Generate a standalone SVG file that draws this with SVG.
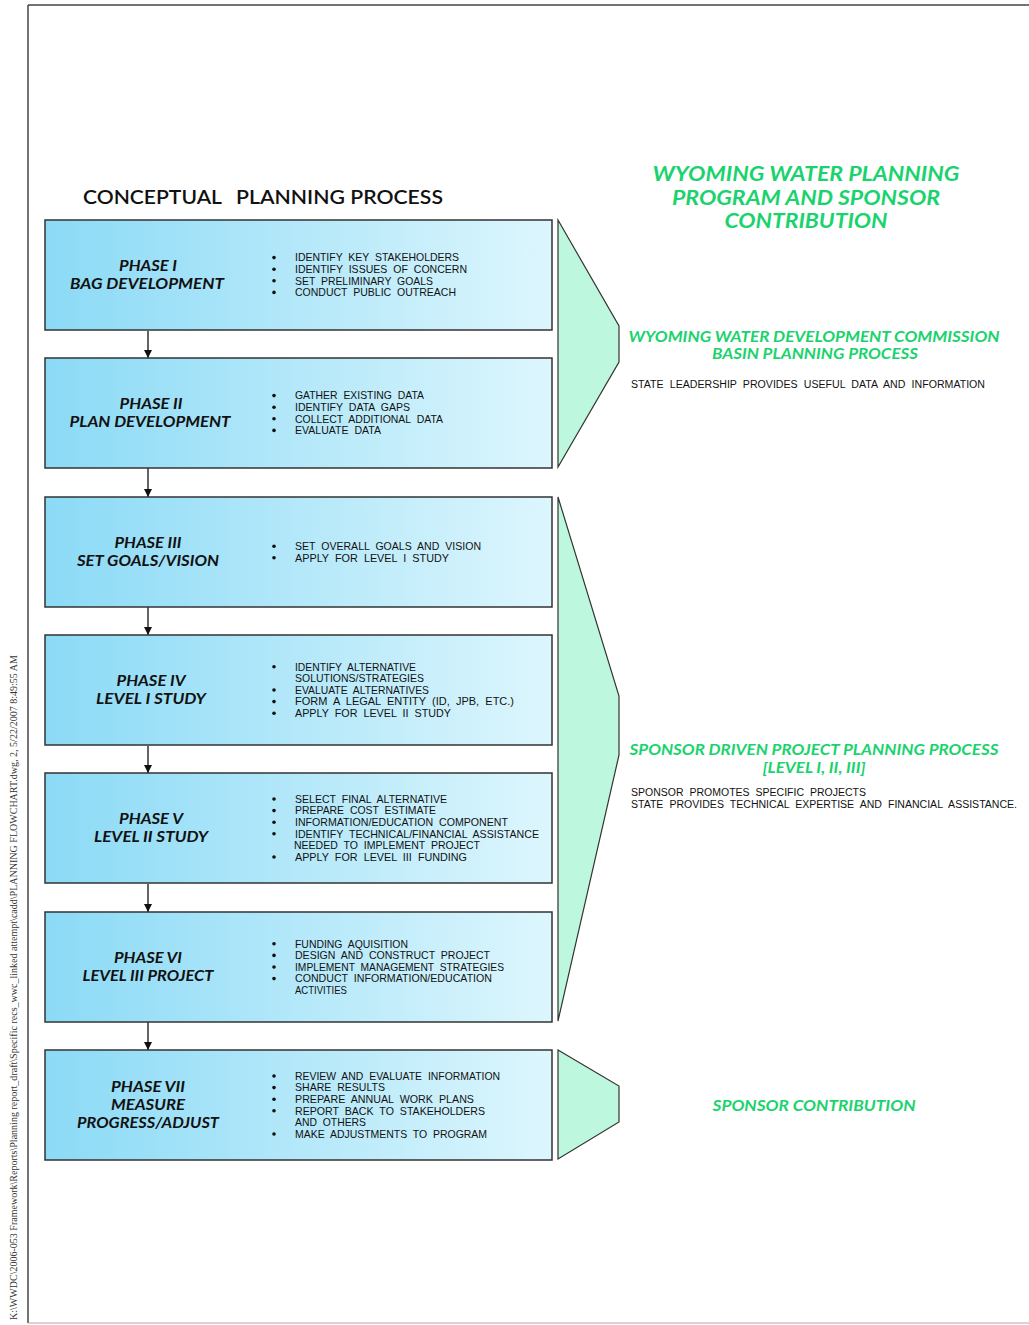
<svg xmlns="http://www.w3.org/2000/svg" width="1029" height="1325" viewBox="0 0 1029 1325">
<defs>
<linearGradient id="boxg" x1="0" y1="0" x2="1" y2="0">
<stop offset="0" stop-color="#8bdaf6"/>
<stop offset="1" stop-color="#ddf6fd"/>
</linearGradient>
<marker id="arr" viewBox="0 0 10 10" refX="10" refY="5" markerWidth="10" markerHeight="8" markerUnits="userSpaceOnUse" orient="auto">
<path d="M0,0 L10,5 L0,10 Z" fill="#111"/>
</marker>
</defs>
<style>
.box{fill:url(#boxg);stroke:#333;stroke-width:1.5}
.br{fill:#bdf8de;stroke:#333;stroke-width:1.2}
.lab{font-family:Lato,"Open Sans","Liberation Sans",sans-serif;font-weight:bold;font-style:italic;font-size:15px;fill:#111;text-anchor:middle}
.bul{font-family:"Liberation Sans",Arial,sans-serif;font-size:10.5px;word-spacing:3px;fill:#111}
.dot{fill:#111}
.g1{font-family:Lato,"Open Sans","Liberation Sans",sans-serif;font-weight:bold;font-style:italic;font-size:20px;fill:#1ad36e;text-anchor:middle}
.g2{font-family:Lato,"Open Sans","Liberation Sans",sans-serif;font-weight:bold;font-style:italic;font-size:15.5px;fill:#1ad36e;text-anchor:middle}
.sm{font-family:"Liberation Sans",Arial,sans-serif;font-size:10px;word-spacing:3px;fill:#111}
.conn{stroke:#111;stroke-width:1.3;fill:none}
</style>

<!-- page border -->
<line x1="28" y1="5" x2="1029" y2="5" stroke="#444" stroke-width="1.5"/>
<line x1="28" y1="5" x2="28" y2="1323" stroke="#444" stroke-width="1.5"/>
<line x1="28" y1="1323" x2="1029" y2="1323" stroke="#aaa" stroke-width="1"/>
<text transform="translate(17,1320) rotate(-90)" font-family="Liberation Serif,serif" font-size="9.5" fill="#333" textLength="665" lengthAdjust="spacingAndGlyphs">K:\WWDC\2006-053 Framework\Reports\Planning report_draft\Specific recs_wwc_linked attempt\cadd\PLANNING FLOWCHART.dwg, 2, 5/22/2007 8:49:55 AM</text>

<g id="heading">
<text x="83" y="204" font-family="Lato,'Open Sans','Liberation Sans',sans-serif" font-weight="600" font-size="20" fill="#111" textLength="139" lengthAdjust="spacingAndGlyphs">CONCEPTUAL</text>
<text x="236" y="204" font-family="Lato,'Open Sans','Liberation Sans',sans-serif" font-weight="600" font-size="20" fill="#111" textLength="207" lengthAdjust="spacingAndGlyphs">PLANNING PROCESS</text>
</g>

<g id="connectors">
<line class="conn" x1="148" y1="331" x2="148" y2="358" marker-end="url(#arr)"/>
<line class="conn" x1="148" y1="468" x2="148" y2="497" marker-end="url(#arr)"/>
<line class="conn" x1="148" y1="607" x2="148" y2="635" marker-end="url(#arr)"/>
<line class="conn" x1="148" y1="746" x2="148" y2="773" marker-end="url(#arr)"/>
<line class="conn" x1="148" y1="884" x2="148" y2="912" marker-end="url(#arr)"/>
<line class="conn" x1="148" y1="1022" x2="148" y2="1050" marker-end="url(#arr)"/>
</g>

<g id="phase1">
<rect class="box" x="45" y="220" width="507" height="110"/>
<text class="lab" x="148" y="271" textLength="58" lengthAdjust="spacingAndGlyphs">PHASE I</text>
<text class="lab" x="147" y="289" textLength="154" lengthAdjust="spacingAndGlyphs">BAG DEVELOPMENT</text>
<circle class="dot" cx="274" cy="257.6" r="1.8"/><circle class="dot" cx="274" cy="269.2" r="1.8"/><circle class="dot" cx="274" cy="280.8" r="1.8"/><circle class="dot" cx="274" cy="292.4" r="1.8"/>
<text class="bul" x="295" y="261.4" textLength="164" lengthAdjust="spacingAndGlyphs">IDENTIFY KEY STAKEHOLDERS</text>
<text class="bul" x="295" y="273" textLength="172" lengthAdjust="spacingAndGlyphs">IDENTIFY ISSUES OF CONCERN</text>
<text class="bul" x="295" y="284.6" textLength="138" lengthAdjust="spacingAndGlyphs">SET PRELIMINARY GOALS</text>
<text class="bul" x="295" y="296.2" textLength="161" lengthAdjust="spacingAndGlyphs">CONDUCT PUBLIC OUTREACH</text>
</g>

<g id="phase2">
<rect class="box" x="45" y="358" width="507" height="110"/>
<text class="lab" x="151" y="409" textLength="63" lengthAdjust="spacingAndGlyphs">PHASE II</text>
<text class="lab" x="150" y="427" textLength="161" lengthAdjust="spacingAndGlyphs">PLAN DEVELOPMENT</text>
<circle class="dot" cx="274" cy="395.6" r="1.8"/><circle class="dot" cx="274" cy="407.2" r="1.8"/><circle class="dot" cx="274" cy="418.8" r="1.8"/><circle class="dot" cx="274" cy="430.4" r="1.8"/>
<text class="bul" x="295" y="399.4" textLength="129" lengthAdjust="spacingAndGlyphs">GATHER EXISTING DATA</text>
<text class="bul" x="295" y="411" textLength="115" lengthAdjust="spacingAndGlyphs">IDENTIFY DATA GAPS</text>
<text class="bul" x="295" y="422.6" textLength="148" lengthAdjust="spacingAndGlyphs">COLLECT ADDITIONAL DATA</text>
<text class="bul" x="295" y="434.2" textLength="86" lengthAdjust="spacingAndGlyphs">EVALUATE DATA</text>
</g>

<g id="phase3">
<rect class="box" x="45" y="497" width="507" height="110"/>
<text class="lab" x="148" y="548" textLength="67" lengthAdjust="spacingAndGlyphs">PHASE III</text>
<text class="lab" x="148" y="566" textLength="142" lengthAdjust="spacingAndGlyphs">SET GOALS/VISION</text>
<circle class="dot" cx="274" cy="546.2" r="1.8"/><circle class="dot" cx="274" cy="557.8" r="1.8"/>
<text class="bul" x="295" y="550" textLength="186" lengthAdjust="spacingAndGlyphs">SET OVERALL GOALS AND VISION</text>
<text class="bul" x="295" y="561.6" textLength="154" lengthAdjust="spacingAndGlyphs">APPLY FOR LEVEL I STUDY</text>
</g>

<g id="phase4">
<rect class="box" x="45" y="635" width="507" height="110"/>
<text class="lab" x="151" y="686" textLength="69" lengthAdjust="spacingAndGlyphs">PHASE IV</text>
<text class="lab" x="151" y="704" textLength="110" lengthAdjust="spacingAndGlyphs">LEVEL I STUDY</text>
<circle class="dot" cx="274" cy="666.8" r="1.8"/><circle class="dot" cx="274" cy="690" r="1.8"/><circle class="dot" cx="274" cy="701.6" r="1.8"/><circle class="dot" cx="274" cy="713.2" r="1.8"/>
<text class="bul" x="295" y="670.6" textLength="121" lengthAdjust="spacingAndGlyphs">IDENTIFY ALTERNATIVE</text>
<text class="bul" x="295" y="682.2" textLength="129" lengthAdjust="spacingAndGlyphs">SOLUTIONS/STRATEGIES</text>
<text class="bul" x="295" y="693.8" textLength="134" lengthAdjust="spacingAndGlyphs">EVALUATE ALTERNATIVES</text>
<text class="bul" x="295" y="705.4" textLength="219" lengthAdjust="spacingAndGlyphs">FORM A LEGAL ENTITY (ID, JPB, ETC.)</text>
<text class="bul" x="295" y="717" textLength="156" lengthAdjust="spacingAndGlyphs">APPLY FOR LEVEL II STUDY</text>
</g>

<g id="phase5">
<rect class="box" x="45" y="773" width="507" height="110"/>
<text class="lab" x="151" y="824" textLength="64" lengthAdjust="spacingAndGlyphs">PHASE V</text>
<text class="lab" x="151" y="842" textLength="114" lengthAdjust="spacingAndGlyphs">LEVEL II STUDY</text>
<circle class="dot" cx="274" cy="799" r="1.8"/><circle class="dot" cx="274" cy="810.6" r="1.8"/><circle class="dot" cx="274" cy="822.2" r="1.8"/><circle class="dot" cx="274" cy="833.8" r="1.8"/><circle class="dot" cx="274" cy="857" r="1.8"/>
<text class="bul" x="295" y="802.8" textLength="152" lengthAdjust="spacingAndGlyphs">SELECT FINAL ALTERNATIVE</text>
<text class="bul" x="295" y="814.4" textLength="141" lengthAdjust="spacingAndGlyphs">PREPARE COST ESTIMATE</text>
<text class="bul" x="295" y="826" textLength="213" lengthAdjust="spacingAndGlyphs">INFORMATION/EDUCATION COMPONENT</text>
<text class="bul" x="295" y="837.6" textLength="244" lengthAdjust="spacingAndGlyphs">IDENTIFY TECHNICAL/FINANCIAL ASSISTANCE</text>
<text class="bul" x="294" y="849.2" textLength="186" lengthAdjust="spacingAndGlyphs">NEEDED TO IMPLEMENT PROJECT</text>
<text class="bul" x="295" y="860.8" textLength="172" lengthAdjust="spacingAndGlyphs">APPLY FOR LEVEL III FUNDING</text>
</g>

<g id="phase6">
<rect class="box" x="45" y="912" width="507" height="110"/>
<text class="lab" x="148" y="963" textLength="68" lengthAdjust="spacingAndGlyphs">PHASE VI</text>
<text class="lab" x="148" y="981" textLength="131" lengthAdjust="spacingAndGlyphs">LEVEL III PROJECT</text>
<circle class="dot" cx="274" cy="943.8" r="1.8"/><circle class="dot" cx="274" cy="955.4" r="1.8"/><circle class="dot" cx="274" cy="967" r="1.8"/><circle class="dot" cx="274" cy="978.6" r="1.8"/>
<text class="bul" x="295" y="947.6" textLength="113" lengthAdjust="spacingAndGlyphs">FUNDING AQUISITION</text>
<text class="bul" x="295" y="959.2" textLength="195" lengthAdjust="spacingAndGlyphs">DESIGN AND CONSTRUCT PROJECT</text>
<text class="bul" x="295" y="970.8" textLength="209" lengthAdjust="spacingAndGlyphs">IMPLEMENT MANAGEMENT STRATEGIES</text>
<text class="bul" x="295" y="982.4" textLength="197" lengthAdjust="spacingAndGlyphs">CONDUCT INFORMATION/EDUCATION</text>
<text class="bul" x="295" y="994" textLength="52" lengthAdjust="spacingAndGlyphs">ACTIVITIES</text>
</g>

<g id="phase7">
<rect class="box" x="45" y="1050" width="507" height="110"/>
<text class="lab" x="148" y="1092" textLength="74" lengthAdjust="spacingAndGlyphs">PHASE VII</text>
<text class="lab" x="148" y="1110" textLength="74" lengthAdjust="spacingAndGlyphs">MEASURE</text>
<text class="lab" x="148" y="1128" textLength="142" lengthAdjust="spacingAndGlyphs">PROGRESS/ADJUST</text>
<circle class="dot" cx="274" cy="1076" r="1.8"/><circle class="dot" cx="274" cy="1087.6" r="1.8"/><circle class="dot" cx="274" cy="1099.2" r="1.8"/><circle class="dot" cx="274" cy="1110.8" r="1.8"/><circle class="dot" cx="274" cy="1134" r="1.8"/>
<text class="bul" x="295" y="1079.8" textLength="205" lengthAdjust="spacingAndGlyphs">REVIEW AND EVALUATE INFORMATION</text>
<text class="bul" x="295" y="1091.4" textLength="90" lengthAdjust="spacingAndGlyphs">SHARE RESULTS</text>
<text class="bul" x="295" y="1103" textLength="179" lengthAdjust="spacingAndGlyphs">PREPARE ANNUAL WORK PLANS</text>
<text class="bul" x="295" y="1114.6" textLength="190" lengthAdjust="spacingAndGlyphs">REPORT BACK TO STAKEHOLDERS</text>
<text class="bul" x="295" y="1126.2" textLength="71" lengthAdjust="spacingAndGlyphs">AND OTHERS</text>
<text class="bul" x="295" y="1137.8" textLength="192" lengthAdjust="spacingAndGlyphs">MAKE ADJUSTMENTS TO PROGRAM</text>
</g>

<g id="bracket1">
<polygon class="br" points="558,220 619,326 619,362 558,467"/>
</g>
<g id="bracket2">
<polygon class="br" points="558,497 619,696 619,755 558,1021"/>
</g>
<g id="bracket3">
<polygon class="br" points="558,1050 619,1086 619,1122 558,1159"/>
</g>

<g id="title">
<text class="g1" x="806" y="181" textLength="307" lengthAdjust="spacingAndGlyphs">WYOMING WATER PLANNING</text>
<text class="g1" x="806" y="205" textLength="268" lengthAdjust="spacingAndGlyphs">PROGRAM AND SPONSOR</text>
<text class="g1" x="806" y="228" textLength="163" lengthAdjust="spacingAndGlyphs">CONTRIBUTION</text>
</g>

<g id="wwdc">
<text class="g2" x="814" y="342" textLength="371" lengthAdjust="spacingAndGlyphs">WYOMING WATER DEVELOPMENT COMMISSION</text>
<text class="g2" x="815" y="359" textLength="206" lengthAdjust="spacingAndGlyphs">BASIN PLANNING PROCESS</text>
<text class="sm" x="631" y="388" textLength="354" lengthAdjust="spacingAndGlyphs">STATE LEADERSHIP PROVIDES USEFUL DATA AND INFORMATION</text>
</g>

<g id="sponsor-driven">
<text class="g2" x="814" y="755" textLength="369" lengthAdjust="spacingAndGlyphs">SPONSOR DRIVEN PROJECT PLANNING PROCESS</text>
<text class="g2" x="814" y="773" textLength="103" lengthAdjust="spacingAndGlyphs">[LEVEL I, II, III]</text>
<text class="sm" x="631" y="796" textLength="235" lengthAdjust="spacingAndGlyphs">SPONSOR PROMOTES SPECIFIC PROJECTS</text>
<text class="sm" x="631" y="808" textLength="386" lengthAdjust="spacingAndGlyphs">STATE PROVIDES TECHNICAL EXPERTISE AND FINANCIAL ASSISTANCE.</text>
</g>

<g id="sponsor-contribution">
<text class="g2" x="814" y="1111" textLength="203" lengthAdjust="spacingAndGlyphs">SPONSOR CONTRIBUTION</text>
</g>
</svg>
